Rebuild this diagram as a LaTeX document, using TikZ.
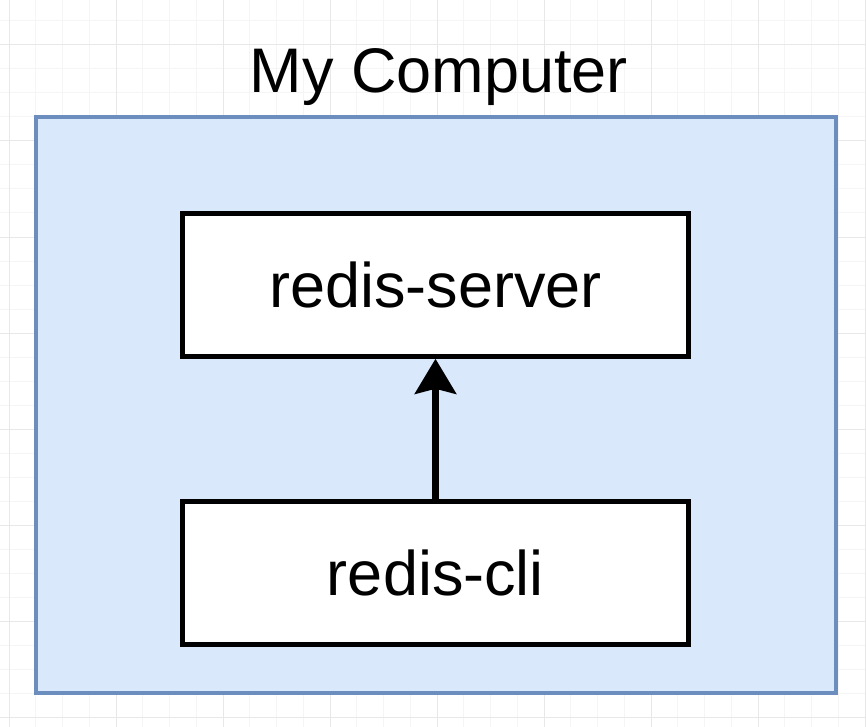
\documentclass[tikz,border=0pt]{standalone}
\usepackage{fontspec}
\setmainfont{Liberation Sans}
\usetikzlibrary{arrows.meta}
\definecolor{boxblue}{HTML}{DAE8FC}
\definecolor{edgeblue}{HTML}{6C8EBF}
\tikzset{every node/.style={inner sep=0pt,font=\fontsize{63}{75}\selectfont}}
\tikzset{proc/.style={rectangle,draw=black,fill=white,line width=4.5pt,minimum width=506pt,minimum height=143pt}}
\tikzset{host/.style={rectangle,draw=edgeblue,fill=boxblue,line width=4pt,minimum width=800pt,minimum height=576pt}}

\begin{document}
\begin{tikzpicture}[x=1pt,y=-1pt]
  \useasboundingbox (0,0) rectangle (866,727);
  % grid
  \foreach \i in {0,...,32} \draw[black!4,line width=1pt] ({9+26.75*\i},0) -- ++(0,727);
  \foreach \i in {0,...,29} \draw[black!4,line width=1pt] (0,{21+24*\i}) -- ++(866,0);
  \foreach \i in {0,...,8} \draw[black!9,line width=1pt] ({9+107*\i},0) -- ++(0,727);
  \foreach \i in {0,...,7} \draw[black!9,line width=1pt] (0,{45+96*\i}) -- ++(866,0);
      \node[host] (computer) at (435.5,405) {};
      \node[anchor=base] (title) at (439,93) {My Computer};
      \node[proc] (server) at (435.5,285) {redis-server};
      \node[proc] (cli) at (435.5,573) {redis-cli};
        \draw[-{Stealth[length=35pt,width=41pt,inset=5pt]},line width=7pt] (cli) -- (server);
    \end{tikzpicture}
\end{document}
